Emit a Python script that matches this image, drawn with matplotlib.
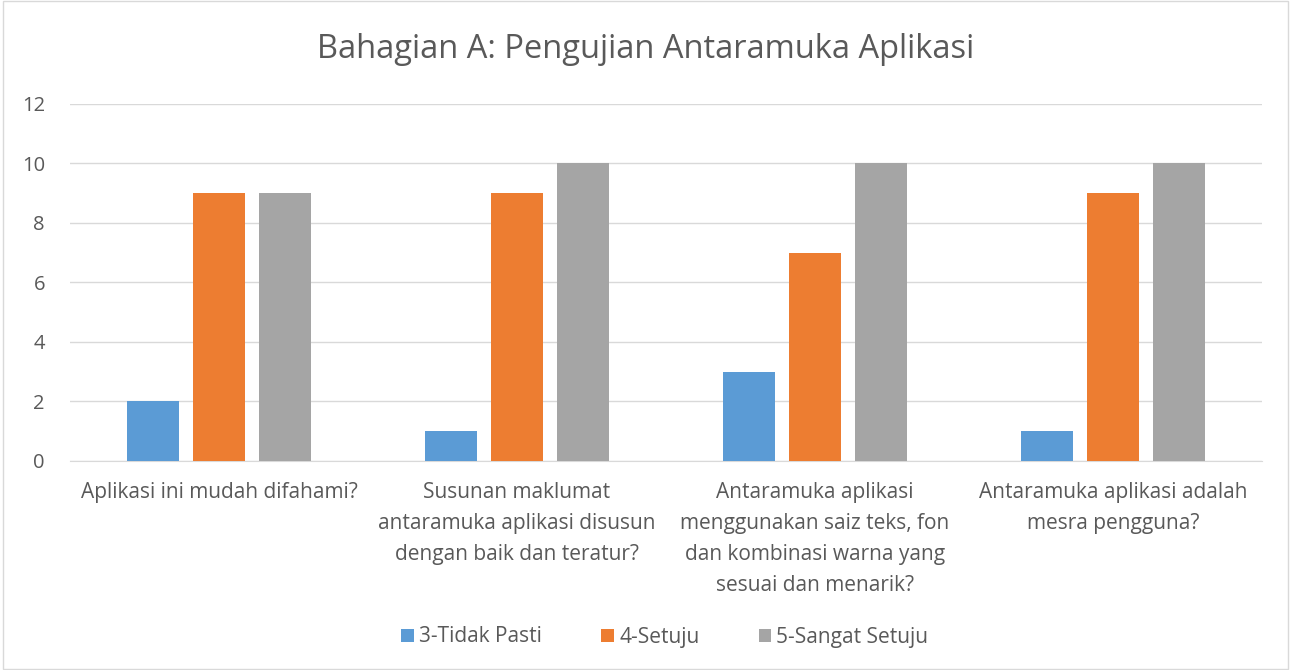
import numpy as np
import matplotlib.pyplot as plt
from matplotlib.patches import Rectangle

# data
categories = [
    "Aplikasi ini mudah difahami?",
    "Susunan maklumat\nantaramuka aplikasi disusun\ndengan baik dan teratur?",
    "Antaramuka aplikasi\nmenggunakan saiz teks, fon\ndan kombinasi warna yang\nsesuai dan menarik?",
    "Antaramuka aplikasi adalah\nmesra pengguna?",
]
series_names = ["3-Tidak Pasti", "4-Setuju", "5-Sangat Setuju"]
tidak_pasti = [2, 1, 3, 1]
setuju = [9, 9, 7, 9]
sangat_setuju = [9, 10, 10, 10]
y_ticks = [0, 2, 4, 6, 8, 10, 12]

colors = ["#5B9BD5", "#ED7D31", "#A5A5A5"]
text_grey = "#595959"

plt.rcParams["font.family"] = ["Open Sans", "DejaVu Sans"]

fig = plt.figure(figsize=(12.91, 6.70), dpi=100)
ax = fig.add_axes([0.0542, 0.312, 0.9233, 0.5328])

x = np.arange(len(categories))
width = 0.174
step = 0.221
for i, (vals, name) in enumerate(zip([tidak_pasti, setuju, sangat_setuju], series_names)):
    ax.bar(x + (i - 1) * step, vals, width, color=colors[i], label=name, zorder=3)

ax.set_xlim(-0.5, len(categories) - 0.5)
ax.set_ylim(0, 12)
ax.set_yticks(y_ticks)
ax.yaxis.grid(True, color="#D9D9D9", lw=1, zorder=0)
for s in ["top", "right", "left"]:
    ax.spines[s].set_visible(False)
ax.spines["bottom"].set_color("#D9D9D9")
ax.tick_params(axis="y", length=0, labelsize=14.5, labelcolor=text_grey, pad=18)
ax.tick_params(axis="x", length=0, labelsize=15, labelcolor=text_grey, pad=15)
ax.set_xticks(x)
ax.set_xticklabels(categories, linespacing=1.62, va="top")

fig.text(0.5, 1 - 50 / 670, "Bahagian A: Pengujian Antaramuka Aplikasi", fontsize=23.5,
         color=text_grey, ha="center", va="center")

fig.legend(loc="center", bbox_to_anchor=(665 / 1291, 1 - 637 / 670), ncol=3, frameon=False,
           fontsize=15, labelcolor=text_grey, handlelength=0.6, handleheight=0.6,
           columnspacing=2.85, handletextpad=0.25)

# outer chart border
fig.patches.append(Rectangle((0.002, 0.002), 0.996, 0.996, transform=fig.transFigure,
                             fill=False, edgecolor="#D9D9D9", lw=1))

fig.savefig("out.png", dpi=100)
